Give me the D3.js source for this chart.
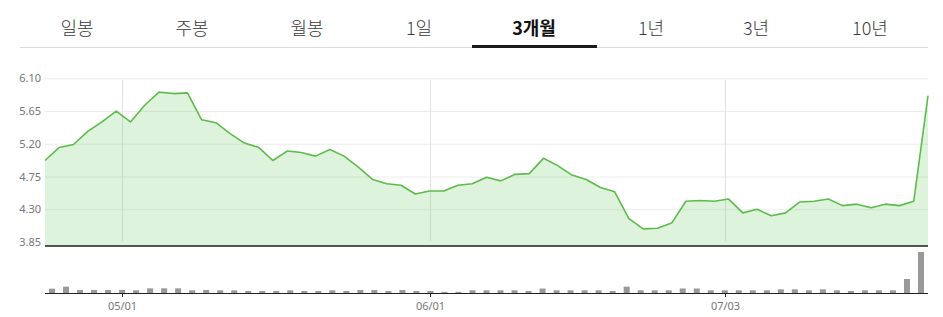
<!DOCTYPE html>
<html>
<head>
<meta charset="utf-8">
<script src="https://cdn.jsdelivr.net/npm/d3@7"></script>
<style>
  html, body { margin: 0; padding: 0; background: #fff; }
  svg { display: block; }
</style>
</head>
<body>
<div id="chart"></div>
<script>
// tabs along the top
const tabLabels = ['일봉', '주봉', '월봉', '1일', '3개월', '1년', '3년', '10년'];
const tabCenters = [77, 192, 307, 419, 534, 651, 756, 870];
const activeTab = '3개월';

// closing price, 63 trading days
const prices = [
  4.97, 5.15, 5.19, 5.37, 5.50, 5.65, 5.50, 5.73, 5.91, 5.89,
  5.90, 5.53, 5.49, 5.34, 5.21, 5.15, 4.97, 5.10, 5.08, 5.03,
  5.12, 5.03, 4.88, 4.71, 4.65, 4.63, 4.51, 4.55, 4.55, 4.63,
  4.65, 4.74, 4.69, 4.78, 4.79, 5.00, 4.90, 4.77, 4.71, 4.60,
  4.54, 4.17, 4.03, 4.04, 4.11, 4.41, 4.42, 4.41, 4.44, 4.25,
  4.30, 4.21, 4.25, 4.40, 4.41, 4.44, 4.35, 4.37, 4.32, 4.37,
  4.35, 4.41, 5.86
];

// traded volume (thousand shares)
const volumes = [
  260, 380, 180, 180, 180, 180, 160, 280, 280, 280,
  160, 180, 160, 160, 120, 120, 120, 160, 120, 120,
  160, 120, 180, 180, 120, 180, 120, 120, 70, 70,
  160, 160, 160, 160, 120, 270, 160, 160, 160, 160,
  120, 380, 160, 160, 160, 270, 270, 160, 160, 160,
  160, 160, 220, 220, 160, 220, 160, 120, 160, 160,
  160, 840, 2460
];

const yTicks = [3.85, 4.30, 4.75, 5.20, 5.65, 6.10];
const xTickIndex = [5, 27, 48];
const xTickLabels = ['05/01', '06/01', '07/03'];

const W = 943, H = 317;
const L = 45, R = 928;

const svg = d3.select('#chart').append('svg')
  .attr('width', W).attr('height', H);

// ---- tabs
svg.append('line')
  .attr('x1', 20).attr('x2', R).attr('y1', 47.5).attr('y2', 47.5)
  .attr('stroke', '#dcdcdc').attr('stroke-width', 1);

svg.append('g').selectAll('text')
  .data(tabLabels)
  .join('text')
  .attr('x', (d, i) => tabCenters[i])
  .attr('y', 27)
  .attr('text-anchor', 'middle')
  .attr('dominant-baseline', 'central')
  .attr('font-family', '"Noto Sans CJK KR", "Noto Sans", sans-serif')
  .attr('font-size', 18)
  .attr('font-weight', d => d === activeTab ? 700 : 300)
  .attr('fill', d => d === activeTab ? '#111' : '#3a3a3a')
  .text(d => d);

const ai = tabLabels.indexOf(activeTab);
svg.append('rect')
  .attr('x', tabCenters[ai] - 62).attr('y', 45)
  .attr('width', 125).attr('height', 3)
  .attr('fill', '#1a1a1a');

// ---- scales
const idx = d3.range(prices.length);
const x = d3.scalePoint().domain(idx).range([L, R]);
const xb = d3.scaleBand().domain(idx).range([L, R]);
const y = d3.scaleLinear().domain([3.85, 6.10]).range([242, 78.3]);
const yBottom = 246;
const yv = d3.scaleLinear().domain([0, d3.max(volumes)]).range([293, 252]);

// ---- grid
svg.append('g').selectAll('line')
  .data(yTicks.slice(1))
  .join('line')
  .attr('x1', L).attr('x2', R)
  .attr('y1', d => y(d) + 0.5).attr('y2', d => y(d) + 0.5)
  .attr('stroke', '#ececec');

svg.append('g').selectAll('line')
  .data(xTickIndex)
  .join('line')
  .attr('x1', d => Math.round(xb(d) + xb.bandwidth() / 2) + 0.5)
  .attr('x2', d => Math.round(xb(d) + xb.bandwidth() / 2) + 0.5)
  .attr('y1', 80).attr('y2', 241)
  .attr('stroke', '#e2e2e2');

// ---- price area + line
const area = d3.area()
  .x((d, i) => x(i))
  .y0(yBottom)
  .y1(d => y(d));

const line = d3.line()
  .x((d, i) => x(i))
  .y(d => y(d));

svg.append('path')
  .datum(prices)
  .attr('d', area)
  .attr('fill', '#5cc24a')
  .attr('fill-opacity', 0.2);

svg.append('path')
  .datum(prices)
  .attr('d', line)
  .attr('fill', 'none')
  .attr('stroke', '#5dbb4b')
  .attr('stroke-width', 1.6)
  .attr('stroke-linejoin', 'round');

svg.append('line')
  .attr('x1', L).attr('x2', R).attr('y1', yBottom).attr('y2', yBottom)
  .attr('stroke', '#1e1e1e').attr('stroke-width', 1.5);

// ---- y axis labels
const yAxis = d3.axisLeft(y).tickValues(yTicks)
  .tickFormat(d3.format('.2f')).tickSize(0).tickPadding(4);

svg.append('g')
  .attr('transform', `translate(${L},0)`)
  .call(yAxis)
  .call(g => g.select('.domain').remove())
  .call(g => g.selectAll('text')
    .attr('font-family', '"Noto Sans", sans-serif')
    .attr('font-size', 11)
    .attr('fill', '#777'));

// ---- volume bars
const barW = 6;
svg.append('g').selectAll('rect')
  .data(volumes)
  .join('rect')
  .attr('x', (d, i) => xb(i) + xb.bandwidth() / 2 - barW / 2)
  .attr('y', d => yv(d))
  .attr('width', barW)
  .attr('height', d => yv(0) - yv(d))
  .attr('fill', '#999');

svg.append('line')
  .attr('x1', L).attr('x2', R).attr('y1', 293.5).attr('y2', 293.5)
  .attr('stroke', '#222').attr('stroke-width', 1.2);

// ---- x ticks
const xt = svg.append('g').selectAll('g')
  .data(xTickIndex)
  .join('g')
  .attr('transform', d => `translate(${Math.round(xb(d) + xb.bandwidth() / 2) + 0.5},0)`);

xt.append('line')
  .attr('y1', 293).attr('y2', 297)
  .attr('stroke', '#222');

xt.append('text')
  .attr('y', 305)
  .attr('text-anchor', 'middle')
  .attr('dominant-baseline', 'central')
  .attr('font-family', '"Noto Sans", sans-serif')
  .attr('font-size', 11)
  .attr('fill', '#777')
  .text((d, i) => xTickLabels[i]);
</script>
</body>
</html>
